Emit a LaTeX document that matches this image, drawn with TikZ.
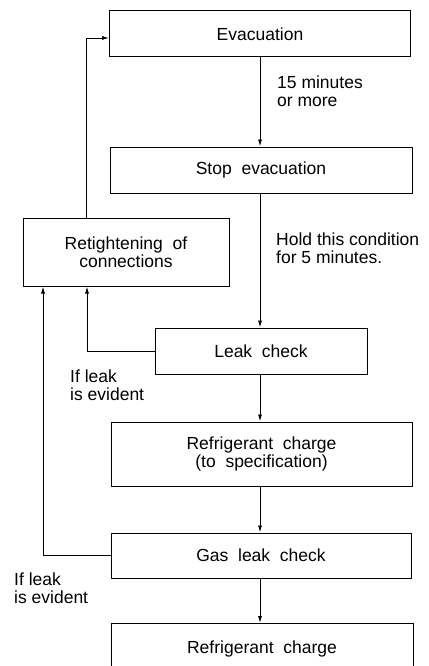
\documentclass[tikz,border=0pt]{standalone}
\usepackage{fontspec}
\setmainfont{Liberation Sans}
\usetikzlibrary{arrows.meta}

\tikzset{
  box/.style={draw, line width=1pt, inner sep=0pt, align=center},
  note/.style={anchor=north west, inner sep=0pt, align=left},
  arr/.style={line width=0.9pt, -{Latex[length=7pt,width=4pt]}},
  link/.style={line width=0.9pt}
}

\begin{document}
\begin{tikzpicture}[x=1pt, y=-1pt, font=\fontsize{17.5}{17.5}\selectfont]
\useasboundingbox (0,0) rectangle (428,666);
\clip (0,0) rectangle (428,666);

% Main column
\node[box, minimum width=301, minimum height=46] (evac) at (260,34) {Evacuation};
\node[box, minimum width=302, minimum height=46] (stop) at (261,170) {Stop\ \ evacuation};
\node[box, minimum width=212, minimum height=46] (leak) at (261,351) {Leak\ \ check};
\node[box, minimum width=301, minimum height=64] (charge) at (261.5,454) {Refrigerant\ \ charge\\(to\ \ specification)};
\node[box, minimum width=300, minimum height=45] (gas) at (261,555.5) {Gas\ \ leak\ \ check};
\node[box, anchor=north, minimum width=302, inner ysep=18pt, text height=12pt, text depth=4pt] (final) at (262,623) {Refrigerant\ \ charge};

% Repair box
\node[box, minimum width=206, minimum height=68] (retight) at (126,252) {Retightening\ \ of\\connections};

% Forward arrows
\draw[arr] (evac.south -| 260,0) -- (stop.north -| 260,0);
\draw[arr] (stop.south -| 260,0) -- (leak.north -| 260,0);
\draw[arr] (leak.south -| 260,0) -- (charge.north -| 260,0);
\draw[arr] (charge.south -| 260,0) -- (gas.north -| 260,0);
\draw[arr] (gas.south -| 260,0) -- (final.north -| 260,0);

% Return paths
\draw[arr] ([xshift=-40pt]retight.north) |- ([yshift=-4pt]evac.west);
\draw[arr] (leak.west) -| ([xshift=-39pt]retight.south);
\draw[arr] (gas.west) -| ([xshift=-83pt]retight.south);

% Notes
\node[note] (n1) at (277,76) {15 minutes\\or more};
\node[note] (n2) at (276,233) {Hold this condition\\for 5 minutes.};
\node[note] (n3) at (70,370) {If leak\\is evident};
\node[note] (n4) at (14,573) {If leak\\is evident};

\end{tikzpicture}
\end{document}
